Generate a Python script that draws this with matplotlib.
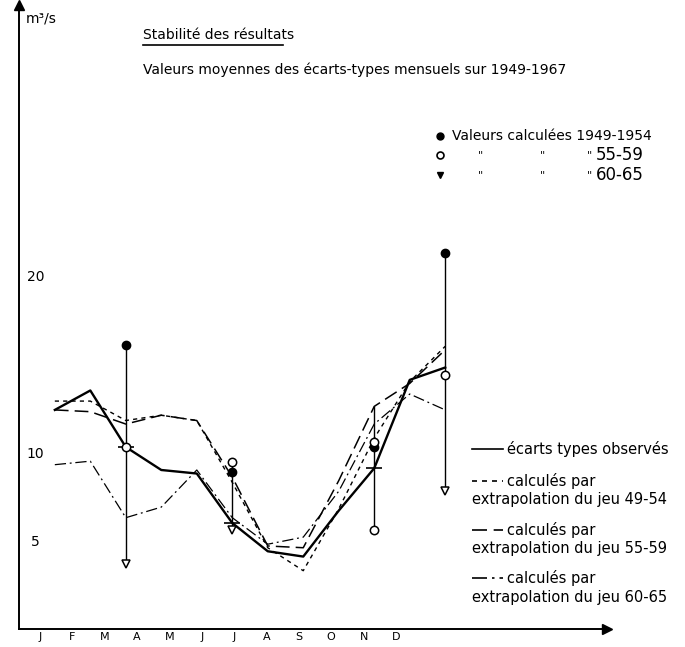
import matplotlib.pyplot as plt
from matplotlib.lines import Line2D
import numpy as np

mois = ['J', 'F', 'M', 'A', 'M', 'J', 'J', 'A', 'S', 'O', 'N', 'D']
observes = [12.4, 13.5, 10.3, 9.0, 8.8, 6.0, 4.4, 4.1, 6.7, 9.1, 14.1, 14.8]
jeu_49_54 = [12.9, 12.9, 11.8, 12.1, 11.8, 8.3, 4.6, 3.3, 6.8, 10.8, 14.0, 16.0]
jeu_55_59 = [12.4, 12.3, 11.6, 12.1, 11.8, 8.6, 4.7, 4.6, 8.4, 12.6, 13.9, 15.8]
jeu_60_65 = [9.3, 9.5, 6.3, 6.9, 9.0, 6.3, 4.8, 5.2, 7.8, 11.6, 13.3, 12.4]

# valeurs calculees (index du mois)
mois_49_54 = [2, 5, 9, 11]
calc_49_54 = [16.1, 8.9, 10.3, 21.3]
mois_55_59 = [2, 5, 9, 9, 11]
calc_55_59 = [10.3, 9.45, 10.6, 5.6, 14.4]
mois_60_65 = [2, 5, 11]
calc_60_65 = [3.7, 5.6, 7.8]

# barres verticales
mois_barres = [2, 5, 9, 11]
barre_haut = [16.1, 9.45, 12.6, 21.3]
barre_bas = [3.7, 5.6, 5.6, 7.8]
mois_plus = [2, 5, 9]

plt.rcParams['font.family'] = ['DejaVu Sans']
fig = plt.figure(figsize=(6.85, 6.47), dpi=100)
ax = fig.add_axes([0.0277, 0.0278, 0.858, 0.964])

x = np.arange(12)
ax.vlines(mois_barres, barre_bas, barre_haut, color='k', lw=1.0)
ax.plot(x, observes, color='k', lw=1.7)
ax.plot(x, jeu_49_54, color='k', lw=1.0, linestyle=(0, (3, 3)))
ax.plot(x, jeu_55_59, color='k', lw=1.1, linestyle=(0, (9, 4)))
ax.plot(x, jeu_60_65, color='k', lw=0.9, linestyle=(0, (9, 3, 1.5, 3)))
ax.plot(mois_plus, [observes[i] for i in mois_plus], '_', color='k', ms=12, mew=1.2)
ax.plot(mois_49_54, calc_49_54, 'o', color='k', ms=6)
ax.plot(mois_55_59, calc_55_59, 'o', mfc='white', mec='k', ms=6, mew=1.1)
ax.plot(mois_60_65, calc_60_65, 'v', mfc='white', mec='k', ms=6, mew=1.1)

ax.set_xlim(-1.01, 15.55)
ax.set_ylim(0, 35.3)
for s in ['top', 'right']:
    ax.spines[s].set_visible(False)
ax.spines['left'].set_linewidth(1.4)
ax.spines['bottom'].set_linewidth(1.4)
ax.plot(1, 0, '>k', ms=7, transform=ax.transAxes, clip_on=False)
ax.plot(0, 1, '^k', ms=7, transform=ax.transAxes, clip_on=False)

ax.set_xticks(np.arange(12) * 0.912 - 0.42)
ax.set_xticklabels(mois, fontsize=8)
ax.tick_params(axis='x', length=0, pad=2)
ax.set_yticks([5, 10, 20])
ax.set_yticklabels(['5', '10', '20'], fontsize=10, ha='center')
ax.tick_params(axis='y', length=0, pad=-12)

fig.text(0.037, 0.972, 'm³/s', fontsize=10, va='center')
fig.text(0.209, 0.946, 'Stabilité des résultats', fontsize=10, va='center')
fig.add_artist(Line2D([0.209, 0.413], [0.931, 0.931], color='k', lw=1.2))
fig.text(0.209, 0.892, 'Valeurs moyennes des écarts-types mensuels sur 1949-1967',
         fontsize=10, va='center')

# legende haut
ylig = [0.790, 0.761, 0.730]
fig.add_artist(Line2D([0.642], [ylig[0]], marker='o', color='k', ms=5))
fig.add_artist(Line2D([0.642], [ylig[1]], marker='o', mfc='white', mec='k', ms=5, mew=1.2))
fig.add_artist(Line2D([0.642], [ylig[2]], marker='v', color='k', ms=5))
fig.text(0.660, ylig[0], 'Valeurs calculées 1949-1954', fontsize=10, va='center')
for yy, lab in zip(ylig[1:], ['55-59', '60-65']):
    fig.text(0.698, yy, '"', fontsize=8, va='center')
    fig.text(0.788, yy, '"', fontsize=8, va='center')
    fig.text(0.857, yy, '"', fontsize=8, va='center')
    fig.text(0.870, yy, lab, fontsize=12, va='center')

# legende bas
styles = ['-', (0, (3, 3)), (0, (9, 4)), (0, (9, 3, 1.5, 3))]
textes = ['écarts types observés', 'calculés par', 'calculés par', 'calculés par']
ytop = [0.306, 0.256, 0.181, 0.107]
for st, t, yy in zip(styles, textes, ytop):
    fig.add_artist(Line2D([0.689, 0.735], [yy, yy], color='k', lw=1.2, linestyle=st))
    fig.text(0.740, yy, t, fontsize=10.5, va='center')
for yy, lab in zip([0.228, 0.152, 0.076], ['49-54', '55-59', '60-65']):
    fig.text(0.689, yy, 'extrapolation du jeu ' + lab, fontsize=10.5, va='center')

fig.savefig('out.png', dpi=100)
